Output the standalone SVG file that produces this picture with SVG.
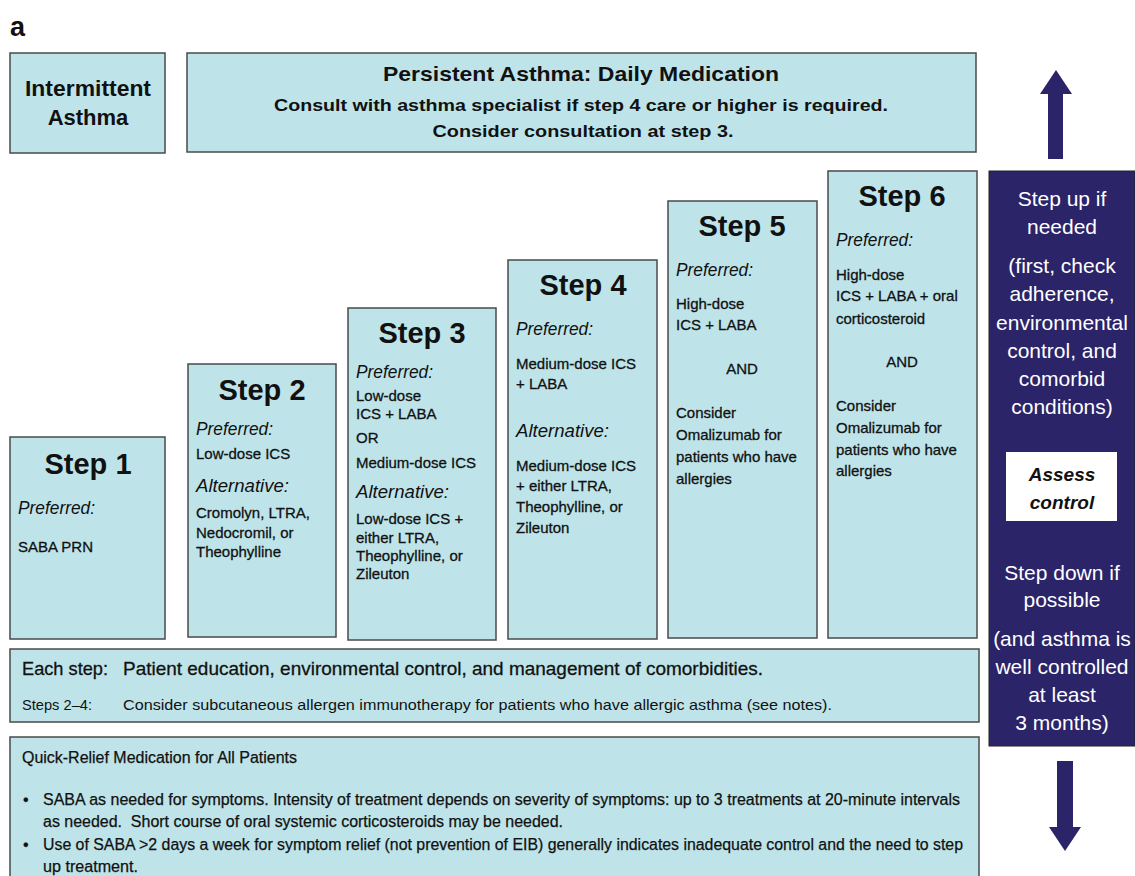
<svg xmlns="http://www.w3.org/2000/svg" width="1135" height="876" viewBox="0 0 1135 876">
<style>
.box{fill:#bee4e9;stroke:#4a4a4a;stroke-width:1.5}
.t{font-family:"Liberation Sans",Arial,sans-serif;fill:#111}
.hb{font-weight:bold}
.step{font-size:29px;font-weight:bold;text-anchor:middle}
.pref{font-size:19px;font-style:italic}
.body{font-size:15px;stroke:#111;stroke-width:0.3}
.w{font-family:"Liberation Sans",Arial,sans-serif;fill:#fff;font-size:21px;text-anchor:middle}
.sm{font-size:16px;stroke:#111;stroke-width:0.25}
.arrow{fill:#2b2468}
</style>
<rect width="1135" height="876" fill="#fff"/>
<text class="t hb" x="10" y="36" font-size="27">a</text>

<g id="intermittent">
<rect class="box" x="10" y="53" width="155" height="100"/>
<text class="t hb" x="88" y="96" font-size="22" text-anchor="middle" textLength="126" lengthAdjust="spacingAndGlyphs">Intermittent</text>
<text class="t hb" x="88" y="125" font-size="22" text-anchor="middle">Asthma</text>
</g>

<g id="persistent">
<rect class="box" x="187" y="53" width="789" height="99"/>
<text class="t hb" x="581" y="81" font-size="21" text-anchor="middle" textLength="396" lengthAdjust="spacingAndGlyphs">Persistent Asthma: Daily Medication</text>
<text class="t hb" x="581" y="111" font-size="17" text-anchor="middle" textLength="614" lengthAdjust="spacingAndGlyphs">Consult with asthma specialist if step 4 care or higher is required.</text>
<text class="t hb" x="583" y="137" font-size="17" text-anchor="middle" textLength="301" lengthAdjust="spacingAndGlyphs">Consider consultation at step 3.</text>
</g>

<g id="step1">
<rect class="box" x="10" y="437" width="155" height="202"/>
<text class="t step" x="88" y="474">Step 1</text>
<text class="t pref" x="18" y="514" textLength="77" lengthAdjust="spacingAndGlyphs">Preferred:</text>
<text class="t body" x="18" y="552">SABA PRN</text>
</g>

<g id="step2">
<rect class="box" x="188" y="364" width="148" height="273"/>
<text class="t step" x="262" y="400">Step 2</text>
<text class="t pref" x="196" y="435" textLength="77" lengthAdjust="spacingAndGlyphs">Preferred:</text>
<text class="t body" x="196" y="459">Low-dose ICS</text>
<text class="t pref" x="196" y="492" textLength="93" lengthAdjust="spacingAndGlyphs">Alternative:</text>
<text class="t body" x="196" y="518">Cromolyn, LTRA,</text>
<text class="t body" x="196" y="538">Nedocromil, or</text>
<text class="t body" x="196" y="557">Theophylline</text>
</g>

<g id="step3">
<rect class="box" x="348" y="308" width="148" height="332"/>
<text class="t step" x="422" y="343">Step 3</text>
<text class="t pref" x="356" y="378" textLength="77" lengthAdjust="spacingAndGlyphs">Preferred:</text>
<text class="t body" x="356" y="401">Low-dose</text>
<text class="t body" x="356" y="419">ICS + LABA</text>
<text class="t body" x="356" y="443">OR</text>
<text class="t body" x="356" y="468">Medium-dose ICS</text>
<text class="t pref" x="356" y="498" textLength="93" lengthAdjust="spacingAndGlyphs">Alternative:</text>
<text class="t body" x="356" y="524">Low-dose ICS +</text>
<text class="t body" x="356" y="543">either LTRA,</text>
<text class="t body" x="356" y="561">Theophylline, or</text>
<text class="t body" x="356" y="579">Zileuton</text>
</g>

<g id="step4">
<rect class="box" x="508" y="260" width="149" height="379"/>
<text class="t step" x="583" y="295">Step 4</text>
<text class="t pref" x="516" y="335" textLength="77" lengthAdjust="spacingAndGlyphs">Preferred:</text>
<text class="t body" x="516" y="369">Medium-dose ICS</text>
<text class="t body" x="516" y="389">+ LABA</text>
<text class="t pref" x="516" y="437" textLength="93" lengthAdjust="spacingAndGlyphs">Alternative:</text>
<text class="t body" x="516" y="471">Medium-dose ICS</text>
<text class="t body" x="516" y="491">+ either LTRA,</text>
<text class="t body" x="516" y="512">Theophylline, or</text>
<text class="t body" x="516" y="533">Zileuton</text>
</g>

<g id="step5">
<rect class="box" x="668" y="201" width="149" height="437"/>
<text class="t step" x="742" y="236">Step 5</text>
<text class="t pref" x="676" y="276" textLength="77" lengthAdjust="spacingAndGlyphs">Preferred:</text>
<text class="t body" x="676" y="309">High-dose</text>
<text class="t body" x="676" y="330">ICS + LABA</text>
<text class="t body" x="742" y="374" text-anchor="middle">AND</text>
<text class="t body" x="676" y="418">Consider</text>
<text class="t body" x="676" y="440">Omalizumab for</text>
<text class="t body" x="676" y="462">patients who have</text>
<text class="t body" x="676" y="484">allergies</text>
</g>

<g id="step6">
<rect class="box" x="828" y="171" width="149" height="467"/>
<text class="t step" x="902" y="206">Step 6</text>
<text class="t pref" x="836" y="246" textLength="77" lengthAdjust="spacingAndGlyphs">Preferred:</text>
<text class="t body" x="836" y="280">High-dose</text>
<text class="t body" x="836" y="301">ICS + LABA + oral</text>
<text class="t body" x="836" y="324">corticosteroid</text>
<text class="t body" x="902" y="367" text-anchor="middle">AND</text>
<text class="t body" x="836" y="411">Consider</text>
<text class="t body" x="836" y="433">Omalizumab for</text>
<text class="t body" x="836" y="455">patients who have</text>
<text class="t body" x="836" y="476">allergies</text>
</g>

<g id="eachstep">
<rect class="box" x="10" y="649" width="969" height="73"/>
<text class="t" x="22" y="675" font-size="19" stroke="#111" stroke-width="0.3" textLength="86" lengthAdjust="spacingAndGlyphs">Each step:</text>
<text class="t" x="123" y="675" font-size="19" stroke="#111" stroke-width="0.3" textLength="640" lengthAdjust="spacingAndGlyphs">Patient education, environmental control, and management of comorbidities.</text>
<text class="t" x="22" y="710" font-size="15" fill="#333" textLength="70" lengthAdjust="spacingAndGlyphs">Steps 2–4:</text>
<text class="t" x="123" y="710" font-size="15" fill="#222" textLength="709" lengthAdjust="spacingAndGlyphs">Consider subcutaneous allergen immunotherapy for patients who have allergic asthma (see notes).</text>
</g>

<g id="quickrelief">
<rect class="box" x="10" y="737" width="969" height="145"/>
<text class="t sm" x="22" y="763" font-size="15" textLength="275" lengthAdjust="spacingAndGlyphs">Quick-Relief Medication for All Patients</text>
<text class="t sm" x="23" y="805">•</text>
<text class="t sm" x="43" y="805" textLength="917" lengthAdjust="spacingAndGlyphs">SABA as needed for symptoms. Intensity of treatment depends on severity of symptoms: up to 3 treatments at 20-minute intervals</text>
<text class="t sm" x="43" y="827" xml:space="preserve" textLength="520" lengthAdjust="spacingAndGlyphs">as needed.  Short course of oral systemic corticosteroids may be needed.</text>
<text class="t sm" x="23" y="850">•</text>
<text class="t sm" x="43" y="850" textLength="920" lengthAdjust="spacingAndGlyphs">Use of SABA &gt;2 days a week for symptom relief (not prevention of EIB) generally indicates inadequate control and the need to step</text>
<text class="t sm" x="43" y="872" textLength="95" lengthAdjust="spacingAndGlyphs">up treatment.</text>
</g>

<g id="control">
<rect x="989" y="171" width="146" height="575" fill="#2b2468" stroke="#222" stroke-width="1"/>
<text class="w" x="1062" y="206">Step up if</text>
<text class="w" x="1062" y="234">needed</text>
<text class="w" x="1062" y="273">(first, check</text>
<text class="w" x="1062" y="301">adherence,</text>
<text class="w" x="1062" y="330">environmental</text>
<text class="w" x="1062" y="358">control, and</text>
<text class="w" x="1062" y="386">comorbid</text>
<text class="w" x="1062" y="414">conditions)</text>
<rect x="1006" y="452" width="111" height="69" fill="#fff"/>
<text class="t hb" x="1062" y="481" font-size="19" font-style="italic" text-anchor="middle">Assess</text>
<text class="t hb" x="1062" y="509" font-size="19" font-style="italic" text-anchor="middle">control</text>
<text class="w" x="1062" y="580">Step down if</text>
<text class="w" x="1062" y="607">possible</text>
<text class="w" x="1062" y="646">(and asthma is</text>
<text class="w" x="1062" y="674">well controlled</text>
<text class="w" x="1062" y="702">at least</text>
<text class="w" x="1062" y="730">3 months)</text>
</g>

<g id="connectors">
<polygon class="arrow" points="1056,70 1072,94 1063,94 1063,159 1048,159 1048,94 1040,94"/>
<polygon class="arrow" points="1065,851 1081,827 1073,827 1073,761 1057,761 1057,827 1049,827"/>
</g>
</svg>
